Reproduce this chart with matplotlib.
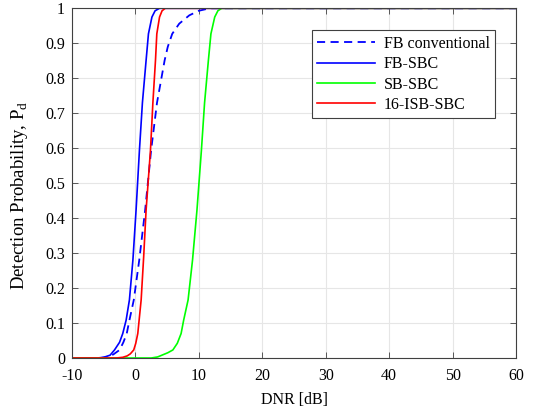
import matplotlib
matplotlib.use("Agg")
import matplotlib.pyplot as plt

plt.rcParams['font.family'] = ['Liberation Serif', 'DejaVu Serif']
plt.rcParams['mathtext.fontset'] = 'custom'
plt.rcParams['mathtext.rm'] = 'Liberation Serif'
plt.rcParams['axes.unicode_minus'] = False

# DNR [dB] vs detection probability for each detector
fb_conv_x = [-10, -5.5, -4.5, -3.5, -2.5, -1.9, -1.37, -0.95, -0.26, 0.6, 1.53, 2.47, 3.4, 4.6, 5.1, 5.8, 6.9, 8.5, 10.0, 11.7, 60]
fb_conv_y = [0, 0, 0.003, 0.01, 0.023, 0.045, 0.07, 0.108, 0.166, 0.28, 0.423, 0.594, 0.73, 0.851, 0.89, 0.927, 0.956, 0.98, 0.993, 1, 1]

fb_sbc_x = [-10, -6, -5.0, -4.0, -3.3, -2.5, -2.0, -1.47, -0.95, -0.4, 0.1, 0.63, 1.1, 1.68, 2.05, 2.6, 3.1, 3.8, 60]
fb_sbc_y = [0, 0, 0.002, 0.008, 0.023, 0.045, 0.07, 0.108, 0.166, 0.28, 0.423, 0.594, 0.73, 0.851, 0.927, 0.975, 0.993, 1, 1]

sb_sbc_x = [-10, 2.5, 3.5, 4.3, 5.1, 5.9, 6.6, 7.2, 7.6, 8.3, 9.0, 9.7, 10.4, 10.9, 11.5, 11.9, 12.5, 13.0, 13.6, 60]
sb_sbc_y = [0, 0, 0.003, 0.009, 0.015, 0.023, 0.042, 0.07, 0.108, 0.166, 0.28, 0.423, 0.594, 0.73, 0.851, 0.927, 0.975, 0.993, 1, 1]

isb_sbc_x = [-10, -3.0, -2.0, -1.3, -0.8, -0.27, 0.05, 0.37, 0.9, 1.3, 1.68, 2.37, 2.75, 3.16, 3.37, 3.8, 4.2, 4.7, 60]
isb_sbc_y = [0, 0, 0.002, 0.006, 0.012, 0.023, 0.042, 0.07, 0.166, 0.29, 0.423, 0.594, 0.73, 0.851, 0.927, 0.975, 0.993, 1, 1]

fig = plt.figure(figsize=(5.35, 4.09), dpi=100)
ax = fig.add_axes([0.1346, 0.1247, 0.8299, 0.855])

ax.plot(fb_conv_x, fb_conv_y, color='#0000ff', linestyle=(0, (4.5, 3)), linewidth=1.3, label='FB conventional')
ax.plot(fb_sbc_x, fb_sbc_y, color='#0000ff', linewidth=1.2, label='FB-SBC')
ax.plot(sb_sbc_x, sb_sbc_y, color='#00ff00', linewidth=1.2, label='SB-SBC')
ax.plot(isb_sbc_x, isb_sbc_y, color='#ff0000', linewidth=1.2, label='16-ISB-SBC')

ax.set_xlim(-10, 60)
ax.set_ylim(0, 1)
ax.set_xticks(range(-10, 61, 10))
ax.set_yticks([i / 10 for i in range(11)])
ax.set_yticklabels(['0', '0.1', '0.2', '0.3', '0.4', '0.5', '0.6', '0.7', '0.8', '0.9', '1'])
ax.grid(True, color='#e6e6e6', linewidth=0.8)
ax.set_axisbelow(True)
ax.tick_params(direction='in', top=True, right=True, labelsize=11.5, length=4, color='#404040', width=0.6)
ax.tick_params(axis='x', pad=7)
ax.tick_params(axis='y', pad=5)
for s in ax.spines.values():
    s.set_color('#404040')
    s.set_linewidth(0.8)

ax.set_xlabel('DNR [dB]', fontsize=11.5, labelpad=6)
ax.set_ylabel('Detection Probability, P$_\\mathrm{d}$', fontsize=13.5, labelpad=4)
ax.yaxis.set_label_coords(-0.095, 0.465)

leg = ax.legend(loc='upper right', bbox_to_anchor=(0.953, 0.937), borderaxespad=0, fontsize=11.5,
                fancybox=False, framealpha=1, edgecolor='#404040', handlelength=3.6,
                handletextpad=0.55, labelspacing=0.27, borderpad=0.35)
leg.get_frame().set_linewidth(0.8)

fig.savefig('out.png', dpi=100)
